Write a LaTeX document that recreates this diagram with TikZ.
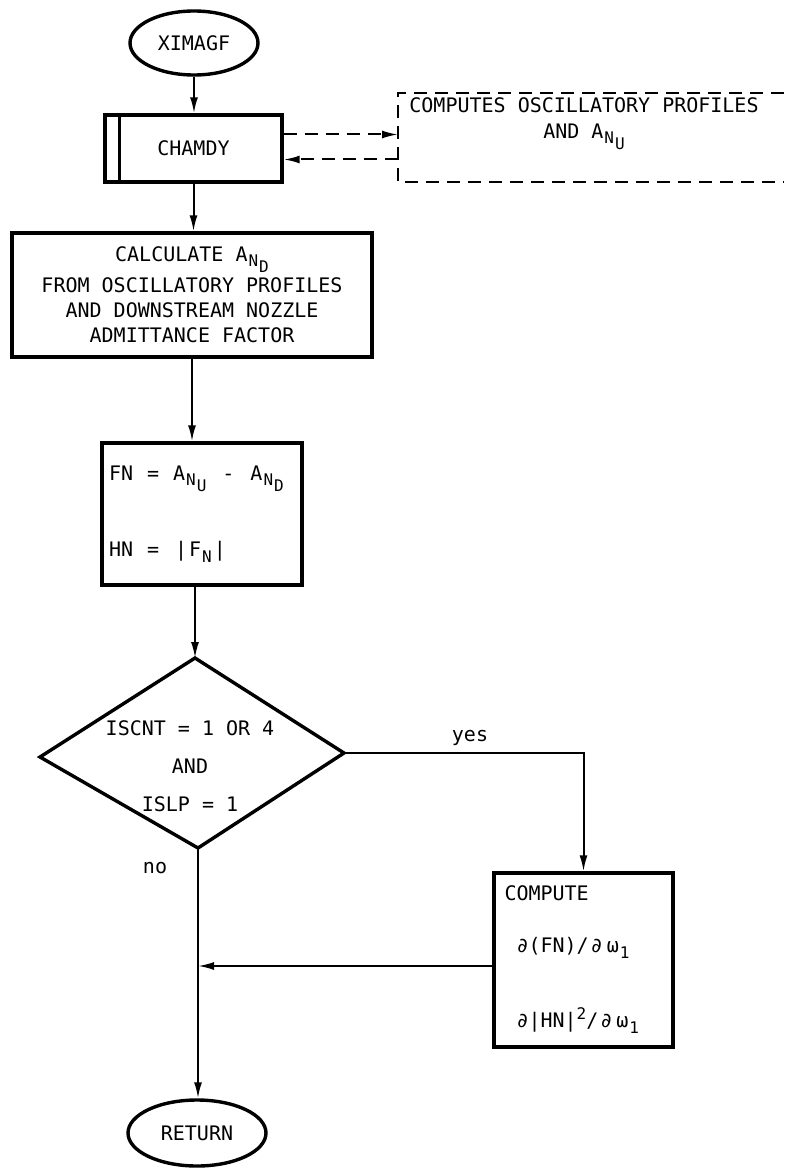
\documentclass[tikz,border=0pt]{standalone}
\usepackage{fontspec}
\setmainfont{DejaVu Sans Mono}
\usetikzlibrary{shapes.geometric,arrows.meta,calc}
\newcommand\Asub[2]{A\kern1pt\raisebox{-5pt}{\fontsize{16}{16}\selectfont #1\kern1pt\raisebox{-6pt}{#2}}}
\newcommand\lowsub[1]{\kern1pt\raisebox{-6pt}{\fontsize{16}{16}\selectfont #1}}
\newcommand\highsup[1]{\raisebox{8pt}{\fontsize{16}{16}\selectfont #1}}
\tikzset{
  boxstyle/.style={draw, line width=3.4pt, rectangle, inner sep=0pt},
  termstyle/.style={draw, line width=3.4pt, ellipse, inner sep=0pt},
  conn/.style={line width=2pt, -{Latex[length=16pt,width=8pt]}},
  dashconn/.style={line width=2pt, dash pattern=on 13pt off 8pt, -{Latex[length=16pt,width=8pt]}},
  dashline/.style={line width=2pt, dash pattern=on 13pt off 8pt},
  txt/.style={font=\fontsize{20}{25}\selectfont},
}
\begin{document}
\begin{tikzpicture}[x=1pt,y=-1pt]
\useasboundingbox (0,0) rectangle (784,1169);
\node[termstyle, txt, minimum width=128, minimum height=64] (start) at (194,43) {XIMAGF};
\node[boxstyle, txt, minimum width=177, minimum height=67] (chamdy) at (193.5,148.5) {CHAMDY};
\draw[line width=2.4pt] ([xshift=16pt]chamdy.north west) -- ([xshift=16pt]chamdy.south west);
\node[minimum width=386, minimum height=89, inner sep=0pt, anchor=west] (ext) at (398,137.5) {};
\draw[dashline] (ext.north east) -- (ext.north west) -- (ext.south west) -- (ext.south east);
\node[txt, align=center] (exttext) at (584,124) {COMPUTES OSCILLATORY PROFILES\\[1pt]AND \Asub{N}{U}};
\node[boxstyle, txt, minimum width=360, minimum height=124, align=center] (calc) at (192,295)
  {CALCULATE \Asub{N}{D}\\[4pt]FROM OSCILLATORY PROFILES\\AND DOWNSTREAM NOZZLE\\ADMITTANCE FACTOR};
\node[boxstyle, txt, minimum width=200, minimum height=142, align=left, text width=186] (fn) at (202,514)
  {FN\hspace{14pt}=\hspace{14pt}\Asub{N}{U}\hspace{16pt}-\hspace{16pt}\Asub{N}{D}\\[48pt]HN\hspace{14pt}=\hspace{16pt}|\kern2pt F\lowsub{N}\kern2pt|};
\coordinate (dtop) at (195,658);
\coordinate (dright) at (344,753);
\coordinate (dbot) at (198,848);
\coordinate (dleft) at (40,757);
\draw[line width=3.4pt, line join=miter] (dtop) -- (dright) -- (dbot) -- (dleft) -- cycle;
\node[txt, align=center] (cond) at (190,766) {ISCNT = 1 OR 4\\[13pt]AND\\[13pt]ISLP = 1};
\node[boxstyle, txt, minimum width=179, minimum height=174, align=left, text width=158] (compute) at (583.5,960)
  {COMPUTE\\[27pt]\hspace*{12pt}∂(FN)/\kern2pt∂\kern4pt ω\lowsub{1}\\[48pt]\hspace*{12pt}∂|HN|\highsup{2}/\kern2pt∂\kern4pt ω\lowsub{1}};
\node[termstyle, txt, minimum width=138, minimum height=66] (ret) at (197,1133) {RETURN};
\node[txt] (yes) at (470,738) {yes};
\node[txt] (no) at (155,868) {no};
\draw[conn] (start.south) -- (start.south |- chamdy.north);
\draw[dashconn] ([yshift=14pt]chamdy.east) -- ([yshift=14pt]chamdy.east -| ext.west);
\draw[dashconn] ([yshift=-11pt]chamdy.east -| ext.west) -- ([yshift=-11pt]chamdy.east);
\draw[conn] (chamdy.south) -- (chamdy.south |- calc.north);
\draw[conn] (calc.south) -- (calc.south |- fn.north);
\draw[conn] (dtop |- fn.south) -- (dtop);
\draw[conn] (dright) -| (compute.north);
\draw[conn] ([yshift=-6pt]compute.west) -- ([yshift=-6pt]compute.west -| dbot);
\draw[conn] (dbot) -- (dbot |- ret.north);
\end{tikzpicture}
\end{document}
